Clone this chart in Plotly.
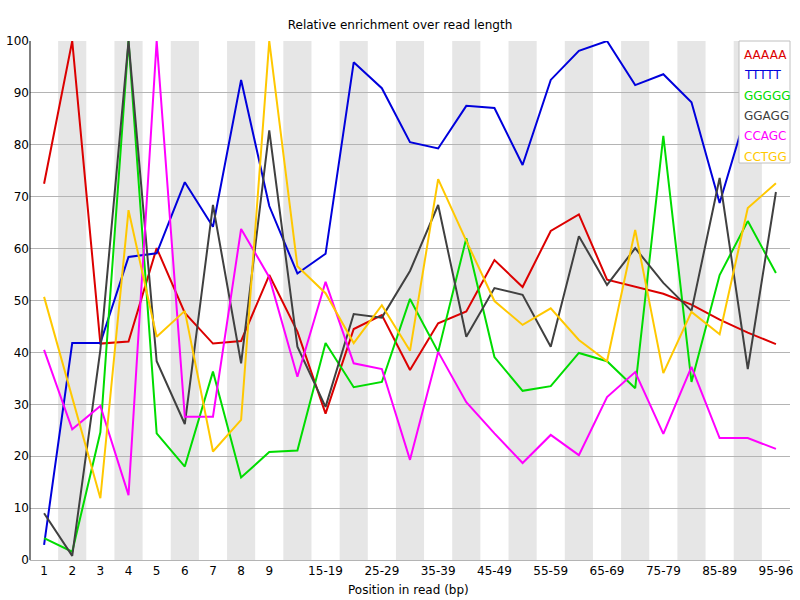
import plotly.graph_objects as go

categories = ["1", "2", "3", "4", "5", "6", "7", "8", "9",
              "10-14", "15-19", "20-24", "25-29", "30-34", "35-39", "40-44",
              "45-49", "50-54", "55-59", "60-64", "65-69", "70-74", "75-79",
              "80-84", "85-89", "90-94", "95-96"]
shown_labels = ["1", "2", "3", "4", "5", "6", "7", "8", "9",
                "", "15-19", "", "25-29", "", "35-39", "", "45-49", "",
                "55-59", "", "65-69", "", "75-79", "", "85-89", "", "95-96"]

AAAAA = [72.5, 100, 41.7, 42.1, 60.1, 47.6, 41.7, 42.2, 54.9, 44.0, 28.2, 44.5, 47.2, 36.6,
         45.6, 47.9, 57.8, 52.6, 63.4, 66.6, 54.0, 52.6, 51.3, 49.2, 46.3, 43.8, 41.6]
TTTTT = [2.9, 41.8, 41.8, 58.4, 59.1, 72.8, 64.2, 92.5, 68.2, 55.2, 59.0, 95.9, 90.9, 80.5,
         79.3, 87.5, 87.1, 76.1, 92.5, 98.1, 100, 91.5, 93.6, 88.2, 68.8, 87.0, 95.0]
GGGGG = [4.2, 1.6, 24.6, 100, 24.4, 18.0, 36.3, 15.9, 20.8, 21.1, 41.8, 33.3, 34.3, 50.3,
         40.1, 62.0, 39.1, 32.6, 33.5, 39.9, 38.3, 33.1, 81.7, 34.3, 54.9, 65.3, 55.3]
GGAGG = [9.0, 0.8, 40.5, 100, 38.3, 26.2, 68.4, 37.9, 82.8, 41.1, 29.5, 47.4, 46.7, 55.7,
         68.4, 43.0, 52.4, 51.1, 41.1, 62.4, 53.0, 60.1, 53.4, 48.0, 73.6, 36.8, 70.9]
CCAGC = [40.5, 25.2, 29.7, 12.5, 100, 27.6, 27.6, 63.8, 54.5, 35.3, 53.6, 37.9, 36.8, 19.3,
         40.1, 30.4, 24.4, 18.7, 24.1, 20.2, 31.4, 36.2, 24.3, 37.2, 23.5, 23.5, 21.4]
CCTGG = [50.7, 31.3, 11.9, 67.4, 43.0, 48.0, 20.9, 27.0, 100, 56.6, 51.4, 41.8, 49.1, 40.3,
         73.4, 61.5, 49.9, 45.3, 48.5, 42.4, 38.3, 63.6, 36.0, 47.8, 43.5, 67.8, 72.6]

series_names = ["AAAAA", "TTTTT", "GGGGG", "GGAGG", "CCAGC", "CCTGG"]
series_values = [AAAAA, TTTTT, GGGGG, GGAGG, CCAGC, CCTGG]
colors = ["rgb(220,0,0)", "rgb(0,0,220)", "rgb(0,220,0)", "rgb(64,64,64)",
          "rgb(255,0,255)", "rgb(255,200,0)"]

FONT = "DejaVu Sans, Liberation Sans, sans-serif"
x_idx = list(range(len(categories)))

L, R, T, B = 30, 10, 41, 40
PW, PH = 800 - L - R, 600 - T - B

def px_x(p):
    return (p - L) / PW

def px_y(p):
    return (600 - B - p) / PH

fig = go.Figure()
for name, vals, c in zip(series_names, series_values, colors):
    fig.add_trace(go.Scatter(x=x_idx, y=vals, mode="lines", name=name,
                             line=dict(color=c, width=2), hoverinfo="x+y+name",
                             showlegend=False))

shapes = []
for i in range(1, len(categories), 2):
    shapes.append(dict(type="rect", xref="x", yref="y", x0=i - 0.5, x1=i + 0.5,
                       y0=0, y1=100, fillcolor="rgb(230,230,230)", line=dict(width=0),
                       layer="below"))
# left axis line (black)
shapes.append(dict(type="line", xref="paper", yref="paper", x0=0, x1=0, y0=0, y1=1,
                   line=dict(color="black", width=1), layer="above"))
# legend box
shapes.append(dict(type="rect", xref="paper", yref="paper",
                   x0=px_x(739), x1=px_x(790),
                   y0=px_y(163), y1=px_y(41),
                   fillcolor="white", line=dict(color="rgb(192,192,192)", width=1),
                   layer="above"))

annotations = []
for k, (name, c) in enumerate(zip(series_names, colors)):
    ypix = 55 + k * 20.3
    annotations.append(dict(xref="paper", yref="paper", x=px_x(742),
                            y=px_y(ypix), text=name, showarrow=False,
                            xanchor="left", yanchor="middle",
                            font=dict(family=FONT, size=12, color=c)))
annotations.append(dict(xref="paper", yref="paper", x=px_x(408), y=px_y(590),
                        text="Position in read (bp)", showarrow=False,
                        xanchor="center", yanchor="middle",
                        font=dict(family=FONT, size=12, color="black")))

fig.update_layout(
    width=800, height=600,
    margin=dict(l=L, r=R, t=T, b=B, autoexpand=False),
    paper_bgcolor="white", plot_bgcolor="white",
    title=dict(text="Relative enrichment over read length", x=0.5, xanchor="center",
               y=1 - 25 / 600, yanchor="middle",
               font=dict(family=FONT, size=12, color="black")),
    font=dict(family=FONT, size=12, color="black"),
    xaxis=dict(range=[-0.5, len(categories) - 0.5], tickmode="array", tickvals=x_idx,
               ticktext=shown_labels, showgrid=False, zeroline=False,
               showline=True, linecolor="rgb(180,180,180)", linewidth=1,
               ticks="", automargin=False,
               tickfont=dict(family=FONT, size=12, color="black")),
    yaxis=dict(range=[0, 100], tickmode="array", tickvals=list(range(0, 101, 10)),
               showgrid=True, gridcolor="rgb(180,180,180)", gridwidth=1,
               zeroline=False, showline=False, ticks="", automargin=False,
               tickfont=dict(family=FONT, size=12, color="black")),
    shapes=shapes, annotations=annotations,
)

fig.write_html("out.html")
